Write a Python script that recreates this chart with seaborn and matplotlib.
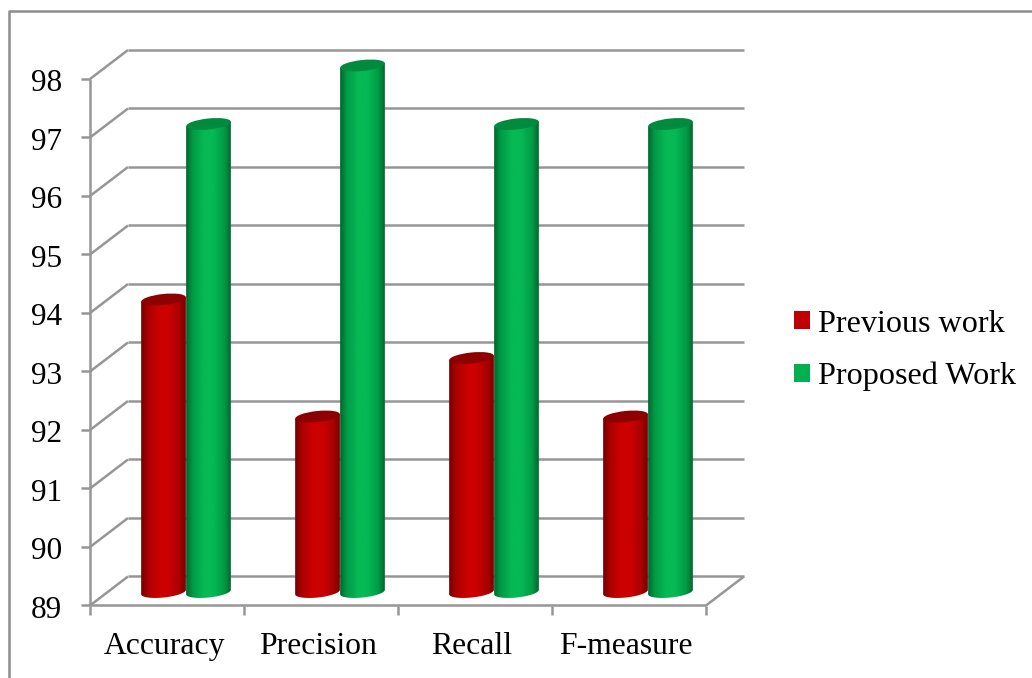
import numpy as np
import pandas as pd
import seaborn as sns
import matplotlib
matplotlib.use("Agg")
import matplotlib.pyplot as plt
from matplotlib.colors import LinearSegmentedColormap
from matplotlib.lines import Line2D
from matplotlib.patches import Ellipse, Patch
from matplotlib.path import Path
from matplotlib.transforms import Affine2D, IdentityTransform

categories = ["Accuracy", "Precision", "Recall", "F-measure"]
previous_work = [94, 92, 93, 92]
proposed_work = [97, 98, 97, 97]
series_names = ["Previous work", "Proposed Work"]
y_ticks = [89, 90, 91, 92, 93, 94, 95, 96, 97, 98]
solid = ["#C00000", "#00B050"]
side_stops = [["#6a0000", "#a80000", "#cc0000", "#cc0000", "#a80000", "#700000"],
              ["#005f2b", "#009a45", "#06b955", "#06b955", "#009a45", "#005f2b"]]
lid = ["#8c0000", "#008a3e"]
GRID = "#969696"
W, H, DPI = 1032, 678, 100

sns.set_style("white")
plt.rcParams["font.family"] = ["Liberation Serif", "DejaVu Serif"]
plt.rcParams["text.color"] = "black"

fig = plt.figure(figsize=(W / DPI, H / DPI), dpi=DPI)
ax = fig.add_axes([109 / W, (H - 592) / H, 616 / W, (592 - 65.5) / H])

df = pd.DataFrame({
    "metric": categories * 2,
    "score": previous_work + proposed_work,
    "series": [series_names[0]] * 4 + [series_names[1]] * 4,
})
sns.barplot(data=df, x="metric", y="score", hue="series", palette=solid,
            width=0.584, gap=0, legend=False, ax=ax)
ax.set_xlim(-0.5, 3.5)
ax.set_ylim(y_ticks[0], y_ticks[-1])
ax.set_xlabel("")
ax.set_ylabel("")
for s in ax.spines.values():
    s.set_visible(False)
ax.patch.set_alpha(0)

# pixel -> data scales for the pseudo-3D depth
ux = 4 / 616
uy = 9 / 526.5
front = (-19 * ux, -13.5 * uy)
back = (19 * ux, 15.5 * uy)
lw = 1.8
xl, xr = -0.5, 3.5


def seg(xs, ys):
    ax.add_line(Line2D(xs, ys, color=GRID, lw=lw, clip_on=False, zorder=1,
                       solid_capstyle="butt"))


for v in y_ticks:
    seg([xl + front[0], xl + back[0]], [v + front[1], v + back[1]])
    seg([xl + back[0], xr + back[0]], [v + back[1], v + back[1]])
seg([xr + front[0], xr + back[0]], [y_ticks[0] + front[1], y_ticks[0] + back[1]])
seg([xl + front[0], xl + front[0]], [y_ticks[0] + front[1], y_ticks[-1] + front[1]])
seg([xl + front[0], xr + front[0]], [y_ticks[0] + front[1], y_ticks[0] + front[1]])

# ticks, moved onto the front plane
ax.set_yticks(y_ticks)
ax.set_yticklabels([str(v) for v in y_ticks])
ax.set_xticks(range(len(categories)))
ax.set_xticklabels(categories)
ax.set_xticks([-0.5, 0.5, 1.5, 2.5, 3.5], minor=True)
ax.tick_params(axis="y", which="major", length=6.5, width=lw, color=GRID,
               pad=13.5, labelsize=22.5, labelcolor="black", left=True)
ax.tick_params(axis="x", which="major", length=0, pad=19, labelsize=22.8,
               labelcolor="black")
ax.tick_params(axis="x", which="minor", length=6.5, width=lw, color=GRID, bottom=True)


def shifted(dx, dy):
    return Affine2D().translate(dx, dy)


for t in ax.yaxis.get_major_ticks():
    t.tick1line.set_transform(t.tick1line.get_transform() + shifted(-19, -13.5))
    t.label1.set_transform(t.label1.get_transform() + shifted(-19, -15))
for t in ax.xaxis.get_minor_ticks():
    t.tick1line.set_transform(t.tick1line.get_transform() + shifted(-19, -13.5))
for t in ax.xaxis.get_major_ticks():
    t.label1.set_transform(t.label1.get_transform() + shifted(-22, -13.5))

# cylinders
ELL_H = 11
TILT = np.deg2rad(6)
for i, cont in enumerate(ax.containers):
    cmap = LinearSegmentedColormap.from_list(
        "side", list(zip([0, 0.16, 0.4, 0.6, 0.84, 1], side_stops[i])))
    for bar in cont:
        top = bar.get_height()
        x0, bw = bar.get_x(), bar.get_width()
        bar.set_y(y_ticks[0])
        bar.set_height(top - y_ticks[0])
        bar.set_visible(False)
        cx = x0 + bw / 2
        z = 3 + i
        px, pbase = ax.transData.transform((cx, y_ticks[0]))
        _, ptop = ax.transData.transform((cx, top))
        pw = ax.transData.transform((x0 + bw, 0))[0] - ax.transData.transform((x0, 0))[0]
        a = pw / 2
        b = ELL_H / 2
        th = np.linspace(0, -np.pi, 60)
        ex = a * np.cos(th)
        ey = b * np.sin(th)
        lower_x = px + ex * np.cos(TILT) - ey * np.sin(TILT)
        lower_y = pbase + ex * np.sin(TILT) + ey * np.cos(TILT)
        tl = (px - a * np.cos(TILT), ptop - a * np.sin(TILT))
        tr = (px + a * np.cos(TILT), ptop + a * np.sin(TILT))
        verts = np.vstack([[tl, tr], np.column_stack([lower_x, lower_y]), [tl]])
        im = ax.imshow(np.linspace(0, 1, 128)[None, :], cmap=cmap, aspect="auto",
                       extent=[x0 - bw * 0.02, x0 + bw * 1.02, y_ticks[0] - 0.3, top + 0.1],
                       zorder=z, interpolation="bilinear")
        im.set_clip_box(fig.bbox)
        im.set_clip_path(Path(verts), IdentityTransform())
        ax.add_patch(Ellipse((px, ptop), pw, ELL_H, angle=np.rad2deg(TILT),
                             transform=IdentityTransform(), clip_on=False,
                             facecolor=lid[i], edgecolor="none", zorder=z + 0.5))
ax.set_xlim(-0.5, 3.5)
ax.set_ylim(y_ticks[0], y_ticks[-1])

# legend
handles = [Patch(facecolor=c, edgecolor="none") for c in solid]
fig.legend(handles, series_names, loc="center left",
           bbox_to_anchor=(794 / W, 1 - 350.5 / H), bbox_transform=fig.transFigure,
           frameon=False, fontsize=23.1, labelcolor="black", borderpad=0, borderaxespad=0,
           handlelength=0.5, handleheight=0.48, handletextpad=0.25, labelspacing=0.72)

# outer chart frame, cut off by the page on two sides
fig.add_artist(Line2D([8.5 / W, 8.5 / W, 1], [0, 1 - 10.5 / H, 1 - 10.5 / H],
                      color="#8c8c8c", lw=lw, transform=fig.transFigure))

fig.savefig("out.png", dpi=DPI)
